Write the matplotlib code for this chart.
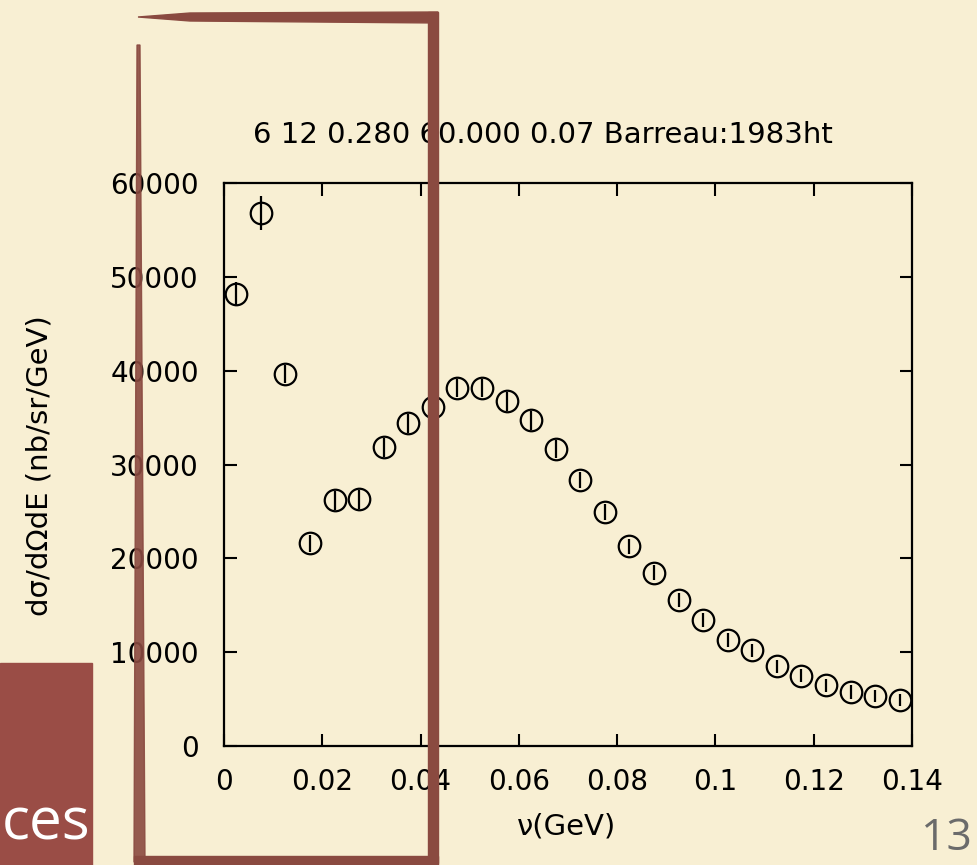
import matplotlib.pyplot as plt
from matplotlib.patches import Polygon, Rectangle

# data
nu = [0.0025, 0.0075, 0.0125, 0.0175, 0.0225, 0.0275, 0.0325, 0.0375, 0.0425, 0.0475,
      0.0525, 0.0575, 0.0625, 0.0675, 0.0725, 0.0775, 0.0825, 0.0875, 0.0925, 0.0975,
      0.1025, 0.1075, 0.1125, 0.1175, 0.1225, 0.1275, 0.1325, 0.1375]
xsec = [48200, 56800, 39650, 21600, 26200, 26300, 31850, 34400, 36100, 38150,
        38150, 36750, 34700, 31650, 28350, 24950, 21300, 18450, 15550, 13450,
        11300, 10200, 8500, 7500, 6450, 5750, 5300, 4900]
err = [1200, 1800, 1000, 900, 1000, 1000, 1000, 1000, 1000, 1000,
       1000, 1000, 1000, 950, 900, 850, 800, 800, 750, 750,
       700, 700, 700, 700, 700, 700, 650, 650]
xticks = [0, 0.02, 0.04, 0.06, 0.08, 0.1, 0.12, 0.14]
xticklabels = ['0', '0.02', '0.04', '0.06', '0.08', '0.1', '0.12', '0.14']
yticks = [0, 10000, 20000, 30000, 40000, 50000, 60000]
title = '6 12 0.280 60.000 0.07 Barreau:1983ht'

W, H = 977, 865
bg = '#f8efd3'
brown = '#8a4a40'


def fx(x):
    return x / W


def fy(y):
    return 1 - y / H


fig = plt.figure(figsize=(W / 100, H / 100), dpi=100, facecolor=bg)
ax = fig.add_axes([fx(224), fy(746), fx(912) - fx(224), fy(183) - fy(746)])
ax.set_facecolor('none')

ax.errorbar(nu, xsec, yerr=err, fmt='o', ms=15.5, mfc='none', mec='black', mew=1.6,
            ecolor='black', elinewidth=1.6, capsize=0, clip_on=False)

ax.set_xlim(0, 0.14)
ax.set_ylim(0, 60000)
ax.set_xticks(xticks)
ax.set_xticklabels(xticklabels)
ax.set_yticks(yticks)
ax.tick_params(direction='in', length=9, width=1.5, labelsize=20,
               top=True, right=True, pad=16)
ax.tick_params(axis='y', pad=18)
for s in ax.spines.values():
    s.set_linewidth(1.6)

fig.text(fx(543), fy(143), title, ha='center', va='baseline', fontsize=21)
fig.text(fx(567), fy(827), 'ν(GeV)', ha='center', va='center', fontsize=21)
fig.text(fx(40), fy(466), 'dσ/dΩdE (nb/sr/GeV)', ha='center', va='center',
         rotation=90, fontsize=21)

# slide decorations
fig.add_artist(Rectangle((fx(0), fy(865)), fx(92), fy(663) - fy(865),
                         transform=fig.transFigure, color='#9a4d46', zorder=2))
fig.text(fx(2), fy(840), 'ces', ha='left', va='baseline', fontsize=42,
         color='white', family='Open Sans', zorder=3)
fig.text(fx(972), fy(850), '13', ha='right', va='baseline', fontsize=32,
         color='#6b6b6b', family='Open Sans', zorder=3)

# hand-drawn frame
top = [(138, 17), (190, 13), (438, 12), (438, 23), (190, 21)]
left = [(137, 45), (140, 45), (145, 862), (134, 862)]
fig.add_artist(Polygon([(fx(a), fy(b)) for a, b in top], closed=True,
                       transform=fig.transFigure, color=brown, zorder=4))
fig.add_artist(Polygon([(fx(a), fy(b)) for a, b in left], closed=True,
                       transform=fig.transFigure, color=brown, zorder=4, alpha=0.9))
fig.add_artist(Rectangle((fx(428), fy(863)), fx(10), fy(12) - fy(863),
                         transform=fig.transFigure, color=brown, zorder=4))
fig.add_artist(Rectangle((fx(134), fy(865)), fx(304), fy(856) - fy(865),
                         transform=fig.transFigure, color=brown, zorder=4))

fig.savefig('out.png', dpi=100, facecolor=bg)
